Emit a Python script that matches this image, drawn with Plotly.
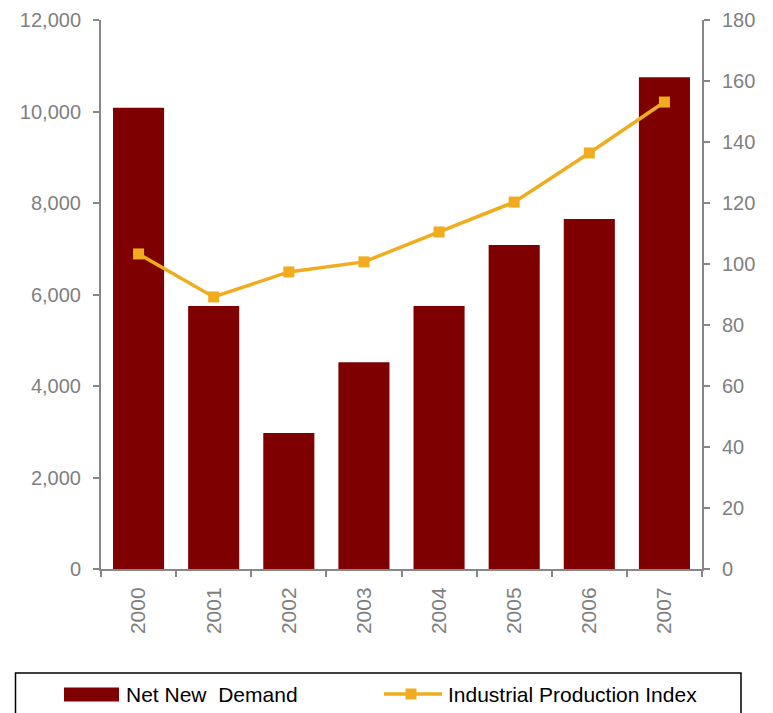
import plotly.graph_objects as go

years = ["2000", "2001", "2002", "2003", "2004", "2005", "2006", "2007"]
net_new_demand = [10080, 5750, 2970, 4520, 5750, 7080, 7650, 10750]
industrial_index = [103.3, 89.2, 97.4, 100.7, 110.5, 120.3, 136.4, 153.1]

left_ticks = [0, 2000, 4000, 6000, 8000, 10000, 12000]
right_ticks = [0, 20, 40, 60, 80, 100, 120, 140, 160, 180]

BAR_NAME = "Net New  Demand"
LINE_NAME = "Industrial Production Index"

BAR_COLOR = "#7f0000"
LINE_COLOR = "#f0ac1e"
AXIS_COLOR = "#878787"
TICK_FONT = dict(family="Liberation Sans, Arial", size=20, color="#7f7f7f")
XTICK_FONT = dict(family="Liberation Sans, Arial", size=21, color="#7f7f7f")
LEGEND_FONT = dict(family="Liberation Sans, Arial", size=21, color="black")

W, H = 773, 713
ML, MR, MT, MB = 101, 71, 20, 144
PW, PH = W - ML - MR, H - MT - MB


def px(x):
    return (x - ML) / PW


def py(y):
    return (H - MB - y) / PH


fig = go.Figure()
fig.add_trace(go.Bar(
    x=years, y=net_new_demand, name=BAR_NAME,
    marker=dict(color=BAR_COLOR, line=dict(width=0)),
    yaxis="y",
))
fig.add_trace(go.Scatter(
    x=years, y=industrial_index, name=LINE_NAME,
    mode="lines+markers",
    line=dict(color=LINE_COLOR, width=3.5),
    marker=dict(symbol="square", size=11, color=LINE_COLOR),
    yaxis="y2",
))

# Legend drawn as a boxed strip below the plot
legend_shapes = [
    dict(type="rect", xref="paper", yref="paper",
         x0=px(15.5), x1=px(741), y0=py(673), y1=py(720),
         line=dict(color="black", width=1.5), fillcolor="rgba(0,0,0,0)"),
    dict(type="rect", xref="paper", yref="paper",
         x0=px(64), x1=px(119), y0=py(687.5), y1=py(701.5),
         line=dict(width=0), fillcolor=BAR_COLOR),
    dict(type="line", xref="paper", yref="paper",
         x0=px(384), x1=px(442), y0=py(694), y1=py(694),
         line=dict(color=LINE_COLOR, width=3.5)),
    dict(type="rect", xref="paper", yref="paper",
         x0=px(405.5), x1=px(416.5), y0=py(688.5), y1=py(699.5),
         line=dict(width=0), fillcolor=LINE_COLOR),
]
legend_texts = [
    dict(text=BAR_NAME, x=px(124), y=py(694.5), xref="paper", yref="paper",
         xanchor="left", yanchor="middle", showarrow=False, font=LEGEND_FONT),
    dict(text=LINE_NAME, x=px(446), y=py(694.5), xref="paper", yref="paper",
         xanchor="left", yanchor="middle", showarrow=False, font=LEGEND_FONT),
]

fig.update_layout(
    width=W, height=H,
    margin=dict(l=ML, r=MR, t=MT, b=MB, pad=0),
    plot_bgcolor="white", paper_bgcolor="white",
    bargap=0.32,
    showlegend=False,
    xaxis=dict(
        type="category", showline=True, linecolor=AXIS_COLOR, linewidth=2,
        ticks="outside", tickson="boundaries", ticklen=6, tickcolor=AXIS_COLOR,
        tickwidth=2, tickangle=-90, tickfont=XTICK_FONT, ticklabelstandoff=8,
        showgrid=False, zeroline=False, automargin=False,
    ),
    yaxis=dict(
        range=[0, 12000], tickvals=left_ticks, tickformat=",d",
        showline=True, linecolor=AXIS_COLOR, linewidth=2,
        ticks="outside", ticklen=6, tickcolor=AXIS_COLOR, tickwidth=2,
        tickfont=TICK_FONT, ticklabelstandoff=8,
        showgrid=False, zeroline=False, automargin=False,
    ),
    yaxis2=dict(
        range=[0, 180], tickvals=right_ticks, overlaying="y", side="right",
        showline=True, linecolor=AXIS_COLOR, linewidth=2,
        ticks="outside", ticklen=6, tickcolor=AXIS_COLOR, tickwidth=2,
        tickfont=TICK_FONT, ticklabelstandoff=8,
        showgrid=False, zeroline=False, automargin=False,
    ),
    shapes=legend_shapes,
    annotations=legend_texts,
)

fig.write_html("out.html")
